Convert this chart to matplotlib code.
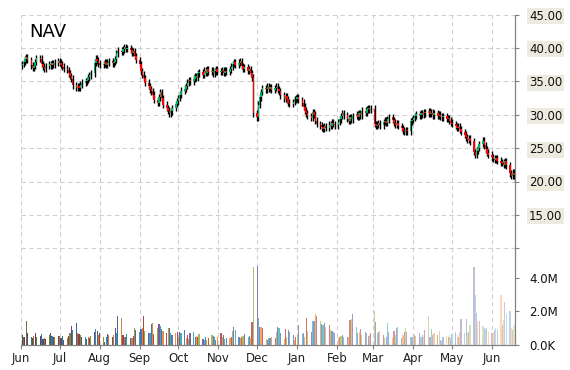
import numpy as np
import pandas as pd
import matplotlib
matplotlib.use("Agg")
import matplotlib.pyplot as plt
import matplotlib.dates as mdates
import matplotlib.colors as mcolors

# daily closes, one line per month (Jun 2014 .. Jun 19 2015)
close_px = [
    37.6, 37.9, 38.3, 38.6, 38.2, 37.4, 37.0, 37.3, 37.9, 38.5, 38.4, 37.6, 37.2, 36.9, 37.3, 37.6, 37.4, 37.7, 37.5, 37.8, 38.0,
    37.8, 37.5, 37.2, 36.9, 36.7, 36.2, 35.8, 35.4, 34.4, 34.0, 34.3, 34.0, 34.5, 34.8, 35.0, 35.2, 35.6, 35.9, 36.2, 37.8, 38.4, 38.1, 37.7,
    37.5, 37.6, 37.9, 37.5, 37.8, 38.0, 37.7, 37.9, 38.3, 39.2, 39.6, 39.4, 39.8, 40.1, 39.9, 40.0, 39.7, 39.3, 39.5, 38.8, 38.2,
    37.6, 36.5, 36.0, 35.5, 34.8, 34.3, 33.8, 33.5, 33.0, 32.2, 31.8, 32.6, 33.4, 32.5, 31.5, 31.0, 30.6, 30.2, 30.5, 31.0, 31.6, 32.0,
    32.5, 33.0, 33.6, 33.9, 34.3, 34.8, 35.2, 35.0, 35.4, 35.8, 35.5, 36.2, 36.4, 36.0, 36.6, 36.3, 36.8, 36.4, 36.6, 36.2, 36.5, 36.8, 36.4,
    36.5, 36.7, 36.3, 36.6, 36.4, 36.8, 37.2, 37.6, 37.9, 37.5, 37.8, 38.0, 37.3, 36.9, 37.1, 36.6, 36.8, 36.2, 35.6, 30.2,
    29.6, 31.5, 32.6, 33.4, 34.0, 33.8, 34.2, 33.9, 34.1, 33.7, 34.0, 34.2, 33.8, 33.5, 32.9, 32.4, 32.8, 32.3, 31.8, 31.6, 31.9, 32.3, 32.4,
    32.6, 32.2, 31.8, 31.2, 30.6, 30.2, 29.8, 29.5, 30.4, 30.0, 29.1, 28.6, 28.4, 28.1, 27.9, 28.3, 28.0, 28.5, 28.3, 28.8, 28.6, 28.4,
    28.9, 29.3, 29.8, 30.2, 29.9, 29.4, 29.1, 29.6, 29.3, 29.8, 30.1, 29.7, 30.2, 29.9, 30.6, 30.3, 30.8, 31.0, 30.7, 30.9,
    28.6, 28.3, 28.5, 28.7, 28.4, 28.9, 29.1, 28.8, 29.3, 29.6, 29.2, 28.8, 28.5, 28.7, 28.3, 28.0, 27.6, 27.4, 27.7, 27.5, 29.0, 29.2,
    29.5, 29.8, 30.1, 29.9, 30.2, 30.0, 30.4, 30.2, 30.5, 30.1, 30.3, 29.9, 30.2, 29.8, 30.0, 29.7, 29.6, 29.8, 29.4, 29.5, 29.1, 28.8,
    28.6, 28.3, 28.0, 28.2, 27.8, 27.4, 27.0, 26.6, 26.2, 26.5, 26.0, 24.4, 24.0, 24.6, 25.0, 25.6, 26.1, 25.4, 24.8, 24.3, 24.0,
    23.6, 23.4, 23.2, 23.5, 23.1, 22.8, 22.9, 22.5, 23.0, 22.4, 21.2, 20.8, 21.3, 20.9, 20.5,
]

# daily volume in millions
volume_m = [
    0.6, 0.5, 0.45, 1.43, 0.74, 0.5, 0.4, 0.54, 0.7, 0.45, 0.54, 0.64, 0.34, 0.44, 0.36, 0.6, 0.7, 0.54, 0.5, 0.45, 0.55,
    0.54, 0.4, 0.54, 0.3, 0.44, 0.54, 0.74, 1.13, 0.9, 1.33, 0.74, 0.66, 0.6, 0.5, 0.46, 0.35, 0.46, 0.4, 0.55, 0.8, 0.96, 0.85, 0.6,
    0.74, 0.5, 0.2, 0.5, 0.66, 0.6, 0.5, 0.6, 1.0, 0.7, 1.73, 1.63, 0.6, 0.5, 0.45, 0.66, 0.4, 0.4, 0.55, 1.0, 0.9,
    0.8, 0.94, 1.0, 1.73, 0.86, 0.74, 0.7, 1.23, 1.3, 0.64, 1.0, 1.25, 1.13, 0.94, 0.86, 0.74, 1.0, 1.0, 0.7, 0.6, 0.74, 0.8,
    0.5, 0.8, 0.74, 0.9, 0.4, 0.6, 0.34, 0.7, 0.8, 0.5, 0.54, 0.5, 0.64, 0.34, 0.3, 0.45, 0.3, 0.4, 0.6, 0.54, 0.5, 0.3, 0.45,
    0.74, 0.5, 0.6, 0.34, 0.4, 0.4, 0.5, 0.86, 1.05, 0.9, 0.45, 0.4, 0.46, 0.54, 0.66, 0.5, 0.54, 0.4, 1.37, 4.64,
    4.68, 1.6, 1.05, 1.1, 1.0, 0.36, 0.3, 0.4, 0.44, 0.5, 0.4, 0.76, 1.1, 1.03, 0.7, 0.36, 0.95, 0.45, 0.88, 0.76, 0.6, 0.3, 0.5,
    0.6, 1.2, 0.64, 0.7, 0.5, 1.6, 0.84, 0.76, 1.4, 1.43, 1.83, 1.73, 1.4, 1.25, 1.2, 1.3, 1.1, 1.2, 0.9, 0.84, 0.8, 0.7,
    0.44, 0.5, 0.56, 0.6, 0.5, 0.46, 0.5, 1.5, 1.53, 1.83, 1.1, 0.7, 0.76, 0.95, 0.6, 0.76, 0.7, 0.54, 0.6, 0.7,
    2.03, 1.35, 0.7, 0.8, 0.84, 0.6, 0.4, 0.5, 1.3, 0.76, 0.4, 0.84, 0.6, 1.03, 1.1, 0.44, 0.6, 0.76, 1.0, 0.76, 0.5, 0.45,
    0.44, 0.6, 0.56, 0.7, 0.5, 0.6, 0.5, 0.9, 1.7, 0.5, 0.96, 0.6, 0.7, 0.6, 0.84, 0.3, 0.26, 0.5, 0.54, 0.5, 0.6, 0.4,
    0.64, 0.76, 0.6, 0.5, 0.76, 1.55, 0.7, 1.55, 0.7, 0.8, 1.2, 4.66, 2.99, 1.9, 1.35, 1.43, 1.13, 1.0, 0.95, 1.0, 0.8,
    0.7, 0.8, 0.9, 1.0, 0.9, 2.99, 1.2, 1.5, 2.53, 1.83, 2.03, 1.0, 0.9, 1.2, 1.4,
]

price_ticks = [10, 15, 20, 25, 30, 35, 40, 45]
volume_ticks = [0, 2e6, 4e6]
volume_labels = ["0.0K", "2.0M", "4.0M"]

bar_palette = ["#4F81BD", "#F79646", "#C0504D", "#9BBB59", "#8064A2", "#4BACC6"]


def shade(color, f):
    # f < 0 darkens, f > 0 fades towards white
    rgb = np.array(mcolors.to_rgb(color))
    if f < 0:
        return tuple(rgb * (1 + f))
    return tuple(rgb + (1 - rgb) * f)


dates = pd.bdate_range("2014-06-02", "2015-06-19")
assert len(dates) == len(close_px) == len(volume_m)
x = mdates.date2num(dates)

close = np.array(close_px)
opn = np.r_[close[0] - 0.2, close[:-1]]
high = np.maximum(opn, close) + 0.5
low = np.minimum(opn, close) - 0.5

fig = plt.figure(figsize=(5.7, 3.7), dpi=100)
ax = fig.add_axes([21 / 570, 25 / 370, 494 / 570, 330.5 / 370])
ax2 = ax.twinx()

# volume
n = len(x)
vcols = [shade(bar_palette[i % 6], -0.35 + 1.0 * i / (n - 1)) for i in range(n)]
ax2.bar(x, np.array(volume_m) * 1e6, width=0.9, color=vcols, linewidth=0)
ax2.set_ylim(0, 330.5 / 33.6 * 2e6)
ax2.set_yticks(volume_ticks)
ax2.set_yticklabels(volume_labels)

# candles
up = close >= opn
ax.vlines(x, low, high, color="black", linewidth=1.0, zorder=2)
ax.bar(x[up], close[up] - opn[up], bottom=opn[up], width=1.1, color="#00B060", linewidth=0, zorder=3)
ax.bar(x[~up], close[~up] - opn[~up], bottom=opn[~up], width=1.1, color="#FF0000", linewidth=0, zorder=3)

ax.set_ylim(45 - 330.5 * 5 / 33.4, 45)
ax.set_yticks(price_ticks)
ax.set_yticklabels([""] + ["%.2f" % v for v in price_ticks[1:]])
ax.yaxis.tick_right()

start = mdates.date2num(pd.Timestamp("2014-06-01"))
ax.set_xlim(start, start + 494 / 1.2904)
ax.xaxis.set_major_locator(mdates.MonthLocator())
ax.xaxis.set_major_formatter(mdates.DateFormatter("%b"))

ax.grid(True, color="#D0D0D0", linestyle=(0, (4, 3)), linewidth=0.8)
ax.set_axisbelow(True)
ax2.grid(False)

for a in (ax, ax2):
    a.spines["top"].set_visible(False)
    a.spines["left"].set_visible(False)
    a.spines["right"].set_color("#808080")
    a.spines["bottom"].set_color("#808080")
    a.tick_params(axis="y", which="both", direction="out", length=3, pad=7,
                  colors="#808080", labelcolor="#111111", labelsize=8.5)
ax.tick_params(axis="x", direction="out", length=3, pad=2, colors="#808080",
               labelcolor="#222222", labelsize=8.5)

for lbl in ax.get_yticklabels():
    lbl.set_bbox(dict(facecolor="#EDEBE0", edgecolor="none", pad=1))

fig.text(29 / 570, 1 - 32 / 370, "NAV", fontsize=13, va="center", ha="left")

fig.savefig("out.png", dpi=100)
